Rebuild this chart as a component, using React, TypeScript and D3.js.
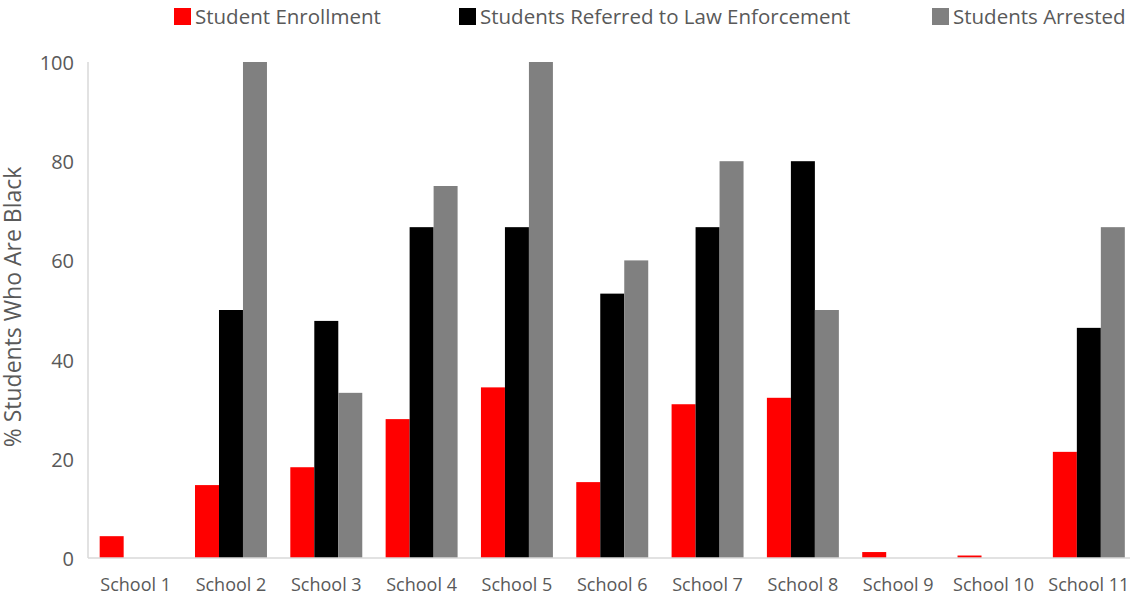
import React, { useEffect, useRef } from "react";
import * as d3 from "d3";

const schools = [
  "School 1", "School 2", "School 3", "School 4", "School 5", "School 6",
  "School 7", "School 8", "School 9", "School 10", "School 11",
];
const seriesNames = [
  "Student Enrollment",
  "Students Referred to Law Enforcement",
  "Students Arrested",
];
const seriesColors = ["#FF0000", "#000000", "#808080"];
const enrollment = [4.4, 14.7, 18.3, 28.0, 34.4, 15.3, 31.0, 32.3, 1.2, 0.5, 21.4];
const referred = [0, 50, 47.8, 66.7, 66.7, 53.3, 66.7, 80, 0, 0, 46.4];
const arrested = [0, 100, 33.3, 75, 100, 60, 80, 50, 0, 0, 66.7];
const yTicks = [0, 20, 40, 60, 80, 100];
const yLabel = "% Students Who Are Black";

const W = 1130;
const H = 596;
const FONT = "'Open Sans', 'DejaVu Sans', sans-serif";
// left edge of each legend entry's swatch
const legendX = [174, 459, 932];

export default function App() {
  const ref = useRef<SVGSVGElement | null>(null);

  useEffect(() => {
    const svg = d3.select(ref.current);
    svg.selectAll("*").remove();

    const values = [enrollment, referred, arrested];
    const left = 88;
    const top = 62;
    const bottom = 558;

    const x0 = d3
      .scaleBand<string>()
      .domain(schools)
      .range([left, 1136.5])
      .paddingInner(0.245)
      .paddingOuter(0.1225);
    const x1 = d3
      .scaleBand<string>()
      .domain(seriesNames)
      .range([0, x0.bandwidth()]);
    const y = d3.scaleLinear().domain([0, 100]).range([bottom, top]);

    // grouped bars
    const groups = svg
      .append("g")
      .selectAll("g")
      .data(schools)
      .join("g")
      .attr("transform", (d) => `translate(${x0(d)},0)`);
    groups
      .selectAll("rect")
      .data((_, i) =>
        seriesNames.map((s, k) => ({ s, k, v: values[k][i] }))
      )
      .join("rect")
      .attr("x", (d) => x1(d.s) as number)
      .attr("width", x1.bandwidth())
      .attr("y", (d) => y(d.v))
      .attr("height", (d) => y(0) - y(d.v))
      .attr("fill", (d) => seriesColors[d.k]);

    // axis lines
    svg
      .append("line")
      .attr("x1", left)
      .attr("x2", left)
      .attr("y1", y(100))
      .attr("y2", y(0))
      .attr("stroke", "#D9D9D9")
      .attr("stroke-width", 1.5);
    svg
      .append("line")
      .attr("x1", left)
      .attr("x2", W)
      .attr("y1", y(0))
      .attr("y2", y(0))
      .attr("stroke", "#D9D9D9")
      .attr("stroke-width", 1.5);

    // y tick labels
    svg
      .append("g")
      .selectAll("text")
      .data(yTicks)
      .join("text")
      .attr("x", 74)
      .attr("y", (d) => y(d) + 8)
      .attr("text-anchor", "end")
      .attr("font-family", FONT)
      .attr("font-size", 20)
      .attr("fill", "#595959")
      .text((d) => d);

    // category labels
    svg
      .append("g")
      .selectAll("text")
      .data(schools)
      .join("text")
      .attr("x", (d) => (x0(d) as number) + x0.bandwidth() / 2)
      .attr("y", 591)
      .attr("text-anchor", "middle")
      .attr("font-family", FONT)
      .attr("font-size", 18)
      .attr("fill", "#595959")
      .text((d) => d);

    // y axis title
    svg
      .append("text")
      .attr("transform", `translate(21,${307}) rotate(-90)`)
      .attr("text-anchor", "middle")
      .attr("font-family", FONT)
      .attr("font-size", 23)
      .attr("fill", "#595959")
      .text(yLabel);

    // legend
    const legend = svg
      .append("g")
      .selectAll("g")
      .data(seriesNames)
      .join("g")
      .attr("transform", (_, k) => `translate(${legendX[k]},0)`);
    legend
      .append("rect")
      .attr("x", 0)
      .attr("y", 8)
      .attr("width", 17)
      .attr("height", 17)
      .attr("fill", (_, k) => seriesColors[k]);
    legend
      .append("text")
      .attr("x", 21)
      .attr("y", 24)
      .attr("font-family", FONT)
      .attr("font-size", 20.5)
      .attr("fill", "#595959")
      .text((d) => d);
  }, []);

  return (
    <svg
      ref={ref}
      width={W}
      height={H}
      style={{ position: "absolute", left: 0, top: 0, background: "#fff" }}
    />
  );
}
